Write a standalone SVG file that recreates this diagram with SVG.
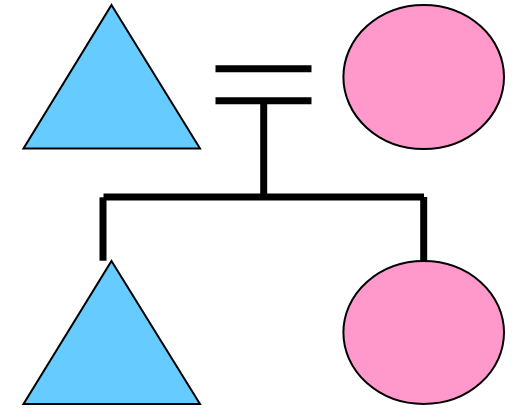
<svg xmlns="http://www.w3.org/2000/svg" width="514" height="408" viewBox="0 0 514 408">
<style>
.male{fill:#66CCFF;stroke:#000;stroke-width:2;stroke-linejoin:miter}
.female{fill:#FF99CC;stroke:#000;stroke-width:2}
.conn line{stroke:#000;stroke-width:7;stroke-linecap:butt}
</style>
<rect width="514" height="408" fill="#fff"/>
<g id="father"><polygon class="male" points="111.5,5 200,148.5 23.5,148.5"/></g>
<g id="mother"><ellipse class="female" cx="423.7" cy="77" rx="80.3" ry="72"/></g>
<g id="son"><polygon class="male" points="111.5,261 200,404 23.5,404"/></g>
<g id="daughter"><ellipse class="female" cx="423.7" cy="332.5" rx="80.3" ry="71.5"/></g>
<g id="connectors" class="conn">
<line x1="215.5" y1="68.7" x2="311.5" y2="68.7"/>
<line x1="215.5" y1="100.8" x2="311.5" y2="100.8"/>
<line x1="263.7" y1="104" x2="263.7" y2="197"/>
<line x1="103.5" y1="197" x2="424" y2="197"/>
<line x1="103" y1="197.3" x2="103" y2="260.7"/>
<line x1="423.7" y1="197" x2="423.7" y2="261"/>
</g>
</svg>
